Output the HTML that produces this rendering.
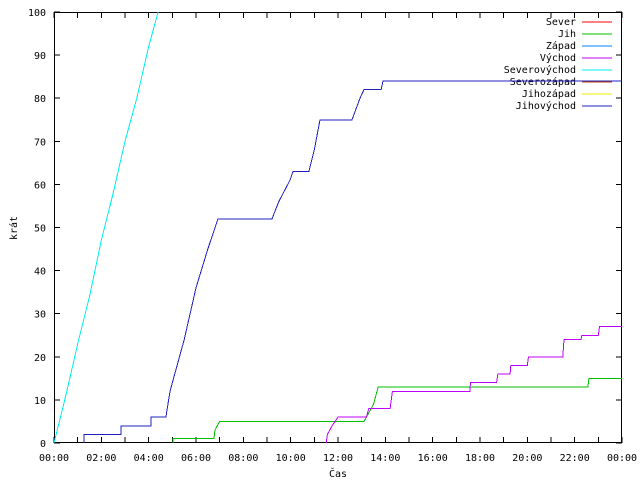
<!DOCTYPE html>
<html><head><meta charset="utf-8"><style>
body{margin:0;background:#fff}
svg text{font-family:"DejaVu Sans Mono","Liberation Mono",monospace;font-size:10px;fill:#000}
svg line,svg polyline,svg rect{shape-rendering:crispEdges}
</style></head><body>
<svg id="chart" width="640" height="480" viewBox="0 0 640 480" xmlns="http://www.w3.org/2000/svg"></svg>
<script>
const yTicks=[0,10,20,30,40,50,60,70,80,90,100];
const xTickLabels=["00:00","02:00","04:00","06:00","08:00","10:00","12:00","14:00","16:00","18:00","20:00","22:00","00:00"];
const seriesNames=["Sever","Jih","Západ","Východ","Severovýchod","Severozápad","Jihozápad","Jihovýchod"];
const seriesColors=["#ff0000","#00c000","#0080ff","#c000ff","#00eeee","#c04000","#eeee00","#2020c0"];
const cyanT=[0,0.5,1,1.5,2,2.5,3,3.5,4,4.4,4.6];
const cyanV=[0,11,23,34,47,58,70,80,92,100,104];
const blueT=[1.27,1.27,2.83,2.83,4.1,4.1,4.73,4.9,5.5,6.0,6.5,6.93,9.21,9.5,9.97,10.1,10.77,11.0,11.24,12.59,12.93,13.1,13.82,13.9,24];
const blueV=[0,2,2,4,4,6,6,12,24,36,45,52,52,56,61,63,63,68,75,75,80,82,82,84,84];
const greenT=[5.03,5.03,6.76,6.8,7.0,13.1,13.3,13.5,13.7,22.56,22.6,24];
const greenV=[0,1,1,3,5,5,7,9,13,13,15,15];
const magT=[11.5,11.55,11.75,12.0,13.2,13.3,14.2,14.3,17.57,17.6,18.7,18.75,19.27,19.3,20.0,20.05,21.5,21.55,22.27,22.3,23.0,23.05,24];
const magV=[0,2,4,6,6,8,8,12,12,14,14,16,16,18,18,20,20,24,24,25,25,27,27];

const L=54,R=622,T=12,B=443;
const xs=h=>L+(R-L)*h/24;
const ys=v=>B-(B-T)*v/100;
const svg=document.getElementById('chart');
const NS="http://www.w3.org/2000/svg";
function mk(tag,attrs){const e=document.createElementNS(NS,tag);for(const k in attrs)e.setAttribute(k,attrs[k]);svg.appendChild(e);return e;}

const clip=document.createElementNS(NS,'clipPath');clip.setAttribute('id','pc');
const cr=document.createElementNS(NS,'rect');cr.setAttribute('x',L);cr.setAttribute('y',T);cr.setAttribute('width',R-L);cr.setAttribute('height',B-T);
clip.appendChild(cr);svg.appendChild(clip);

yTicks.forEach(v=>{
  const y=ys(v);
  const t=mk('line',{x1:L,x2:L+6,y1:y,y2:y,stroke:'#000'});
  
  const t2=mk('line',{x1:R-6,x2:R,y1:y,y2:y,stroke:'#000'});
  
  const lb=mk('text',{x:46,y:y+4,'text-anchor':'end'});lb.textContent=v;
  
});
for(let h=0;h<=24;h++){
  const x=xs(h);
  const t=mk('line',{x1:x,x2:x,y1:B,y2:B-6,stroke:'#000'});
  
  const t2=mk('line',{x1:x,x2:x,y1:T,y2:T+6,stroke:'#000'});
  
}
xTickLabels.forEach((s,i)=>{
  const lb=mk('text',{x:xs(i*2),y:461,'text-anchor':'middle'});lb.textContent=s;
  
});
const frame=mk('rect',{x:L+0.5,y:T+0.5,width:R-L-1,height:B-T-1,fill:'none',stroke:'#000'});


const yt=mk('text',{x:17,y:228,'text-anchor':'middle',transform:'rotate(-90 17 228)'});yt.textContent='krát';

const xt=mk('text',{x:338,y:477,'text-anchor':'middle'});xt.textContent='Čas';


seriesNames.forEach((n,i)=>{
  const y=22+i*12;
  const lb=mk('text',{x:576,y:y+3,'text-anchor':'end'});lb.textContent=n;
  
  const ln=mk('line',{x1:582,x2:612,y1:y,y2:y,stroke:seriesColors[i]});
  
});

function series(tArr,vArr,color,name){
  const pts=tArr.map((t,i)=>xs(t).toFixed(1)+','+ys(vArr[i]).toFixed(1)).join(' ');
  const p=mk('polyline',{points:pts,fill:'none',stroke:color,'stroke-width':1,'clip-path':'url(#pc)'});
  
  
}
series(cyanT,cyanV,seriesColors[4],'series-severovychod');
series(greenT,greenV,seriesColors[1],'series-jih');
series(magT,magV,seriesColors[3],'series-vychod');
series(blueT,blueV,seriesColors[7],'series-jihovychod');
</script>
</body></html>
